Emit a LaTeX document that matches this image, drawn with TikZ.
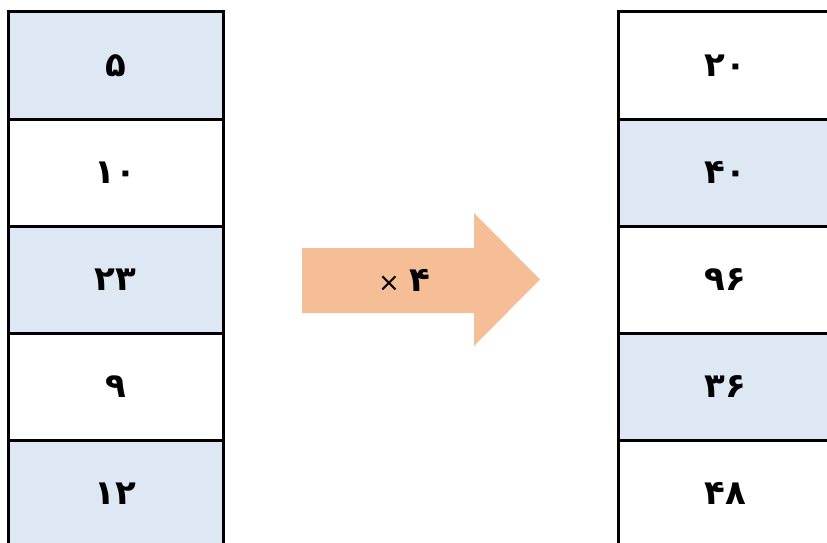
\documentclass[tikz,border=0pt]{standalone}
\usepackage{fontspec}
\newfontfamily\farsifont[Script=Arabic]{DejaVu Sans}
\usetikzlibrary{positioning}

\definecolor{cellblue}{RGB}{222,232,245}
\definecolor{arroworange}{RGB}{245,190,150}

\tikzset{
  cell/.style={draw, line width=3pt, minimum width=215pt, minimum height=107pt,
    inner sep=0pt, font=\farsifont\bfseries\fontsize{34}{38}\selectfont},
  rowblue/.style={cell, fill=cellblue},
  rowwhite/.style={cell, fill=white},
}

\begin{document}
\begin{tikzpicture}[x=1pt,y=-1pt]
  \useasboundingbox (0,0) rectangle (827,543);
  % left column
  \foreach \v/\s [count=\i] in {۵/rowblue, ۱۰/rowwhite, ۲۳/rowblue, ۹/rowwhite, ۱۲/rowblue}
    \node[\s] (l\i) at (115.5, {65.5+107*(\i-1)}) {\v};
  % right column
  \foreach \v/\s [count=\i] in {۲۰/rowwhite, ۴۰/rowblue, ۹۶/rowwhite, ۳۶/rowblue, ۴۸/rowwhite}
    \node[\s] (r\i) at (725.5, {65.5+107*(\i-1)}) {\v};
  % the arrow
  \fill[arroworange] (302,248) -- (474,248) -- (474,213) -- (540,279.5)
    -- (474,346) -- (474,313) -- (302,313) -- cycle;
  \node (times) at (404,280) {{\farsifont\fontsize{26}{28}\selectfont ×}\hspace{9pt}%
    {\farsifont\bfseries\fontsize{34}{38}\selectfont ۴}};
\end{tikzpicture}
\end{document}
